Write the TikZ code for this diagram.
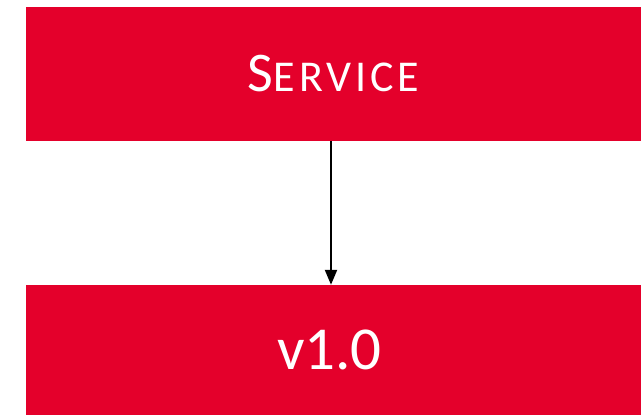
\documentclass[tikz,border=0pt]{standalone}
\usepackage{fontspec}
\setmainfont{Carlito}
\usepackage{xcolor}
\usetikzlibrary{arrows.meta,positioning}
\definecolor{brandred}{RGB}{228,0,43}

\begin{document}
\begin{tikzpicture}[
    x=1pt,y=1pt,
    box/.style={fill=brandred,text=white,minimum width=615pt,inner sep=0pt,align=center},
    >={Triangle[width=12pt,length=15pt]}
  ]
    \useasboundingbox (0,0) rectangle (641,-415);
    \node[box,minimum height=134pt] (svc) at (333.5,-74)
      {\fontsize{56}{60}\selectfont S\addfontfeature{LetterSpace=9}\fontsize{44}{48}\selectfont ERVICE};
    \node[box,minimum height=130pt] (ver) at (333.5,-350)
      {\fontsize{61}{64}\selectfont\kern-8pt v1.0};

    \draw[->,line width=2.2pt] ([xshift=-2.5pt]svc.south) -- ([xshift=-2.5pt]ver.north);
  \end{tikzpicture}
\end{document}
